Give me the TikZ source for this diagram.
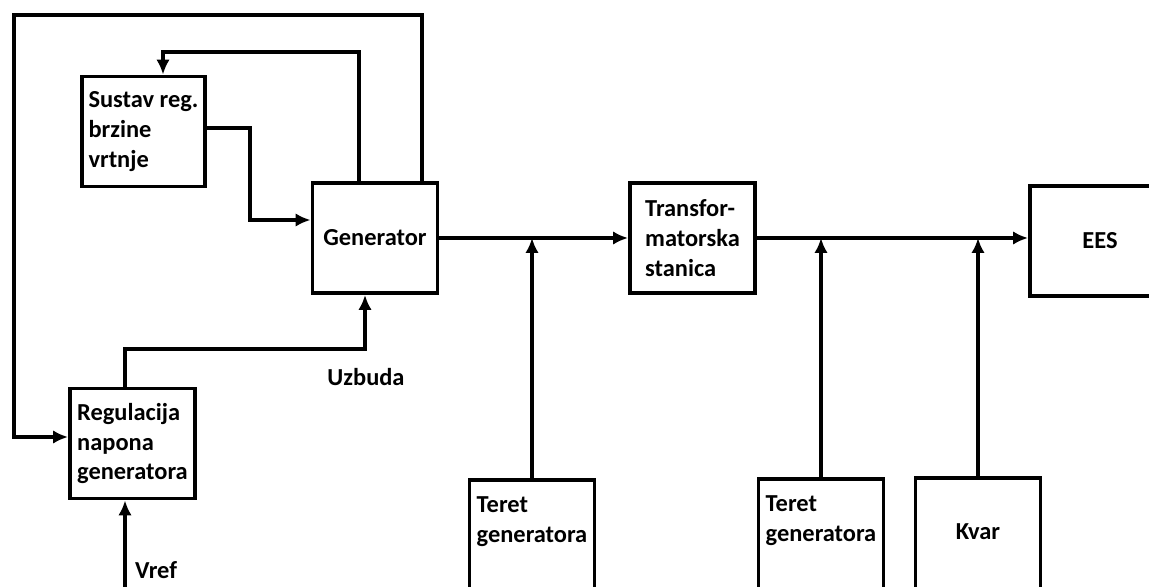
\documentclass[tikz,border=0pt]{standalone}
\usepackage{fontspec}
\setmainfont{Carlito}
\usetikzlibrary{positioning,calc,arrows.meta}

\tikzset{
  blok/.style={draw, line width=2.2pt, minimum width=2.5cm, minimum height=2.2cm, inner sep=0pt, align=left},
  tekst/.style={align=left, inner sep=0pt},
  veza/.style={line width=2.2pt, ->},
}

\begin{document}
\begin{tikzpicture}[x=0.02cm, y=-0.02cm, >={Latex[length=0.3cm,width=0.27cm]},
  font=\fontsize{13.9}{17}\selectfont\bfseries]
\useasboundingbox (0,0) rectangle (1149,587);
\clip (0,0) rectangle (1149,587);

% blokovi
\node (sustav) [blok, minimum width=2.46cm] at (143.5,131.5) {Sustav reg.\\brzine\\vrtnje};
\node (gen) [blok] at (375,238) {Generator};
\node (reg) [blok] at (132.5,443.5) {Regulacija\\napona\\generatora};
\node (trafo) [blok] at (692.5,238) {Transfor-\\matorska\\stanica};
\node (ees) [blok, minimum width=2.8cm] at (1100,241) {EES};
\node (teret1) [blok, anchor=north, minimum height=3cm] at (532,478) {};
\node (teret2) [blok, anchor=north, minimum height=3cm] at (821,477) {};
\node (kvar) [blok, anchor=north, minimum height=3cm] at (978,476) {};
\node (teret1txt) [tekst, below=0.36cm of teret1.north] {Teret\\generatora};
\node (teret2txt) [tekst, below=0.36cm of teret2.north] {Teret\\generatora};
\node (kvartxt) [tekst, below=0.95cm of kvar.north] {Kvar};
\node (uzbuda) [tekst] at (366,377) {Uzbuda};
\node (vreftxt) [tekst] at (156,570) {Vref};
\coordinate (vref) at (125,600);

% veze
\draw[veza] ($(gen.north)+(47,0)$) |- (14,15) |- ($(reg.west)+(0,-6.5)$);
\draw[veza] ($(gen.north)+(-16,0)$) -- ++(0,-129) -| ($(sustav.north)+(19.5,0)$);
\draw[veza] ($(sustav.east)+(0,-3.5)$) -- ++(43,0) |- ($(gen.west)+(0,-18)$);
\draw[veza] ($(reg.north)+(-7.5,0)$) -- ++(0,-38) -| ($(gen.south)+(-10,0)$);
\draw[veza] (vref) -- ($(reg.south)+(-7.5,0)$);
\draw[veza] (gen.east) -- (trafo.west);
\draw[veza] (trafo.east) -- (trafo.east -| ees.west);
\draw[veza] (teret1.north) -- (teret1.north |- gen.east);
\draw[veza] (teret2.north) -- (teret2.north |- trafo.east);
\draw[veza] (kvar.north) -- (kvar.north |- trafo.east);
\end{tikzpicture}
\end{document}
